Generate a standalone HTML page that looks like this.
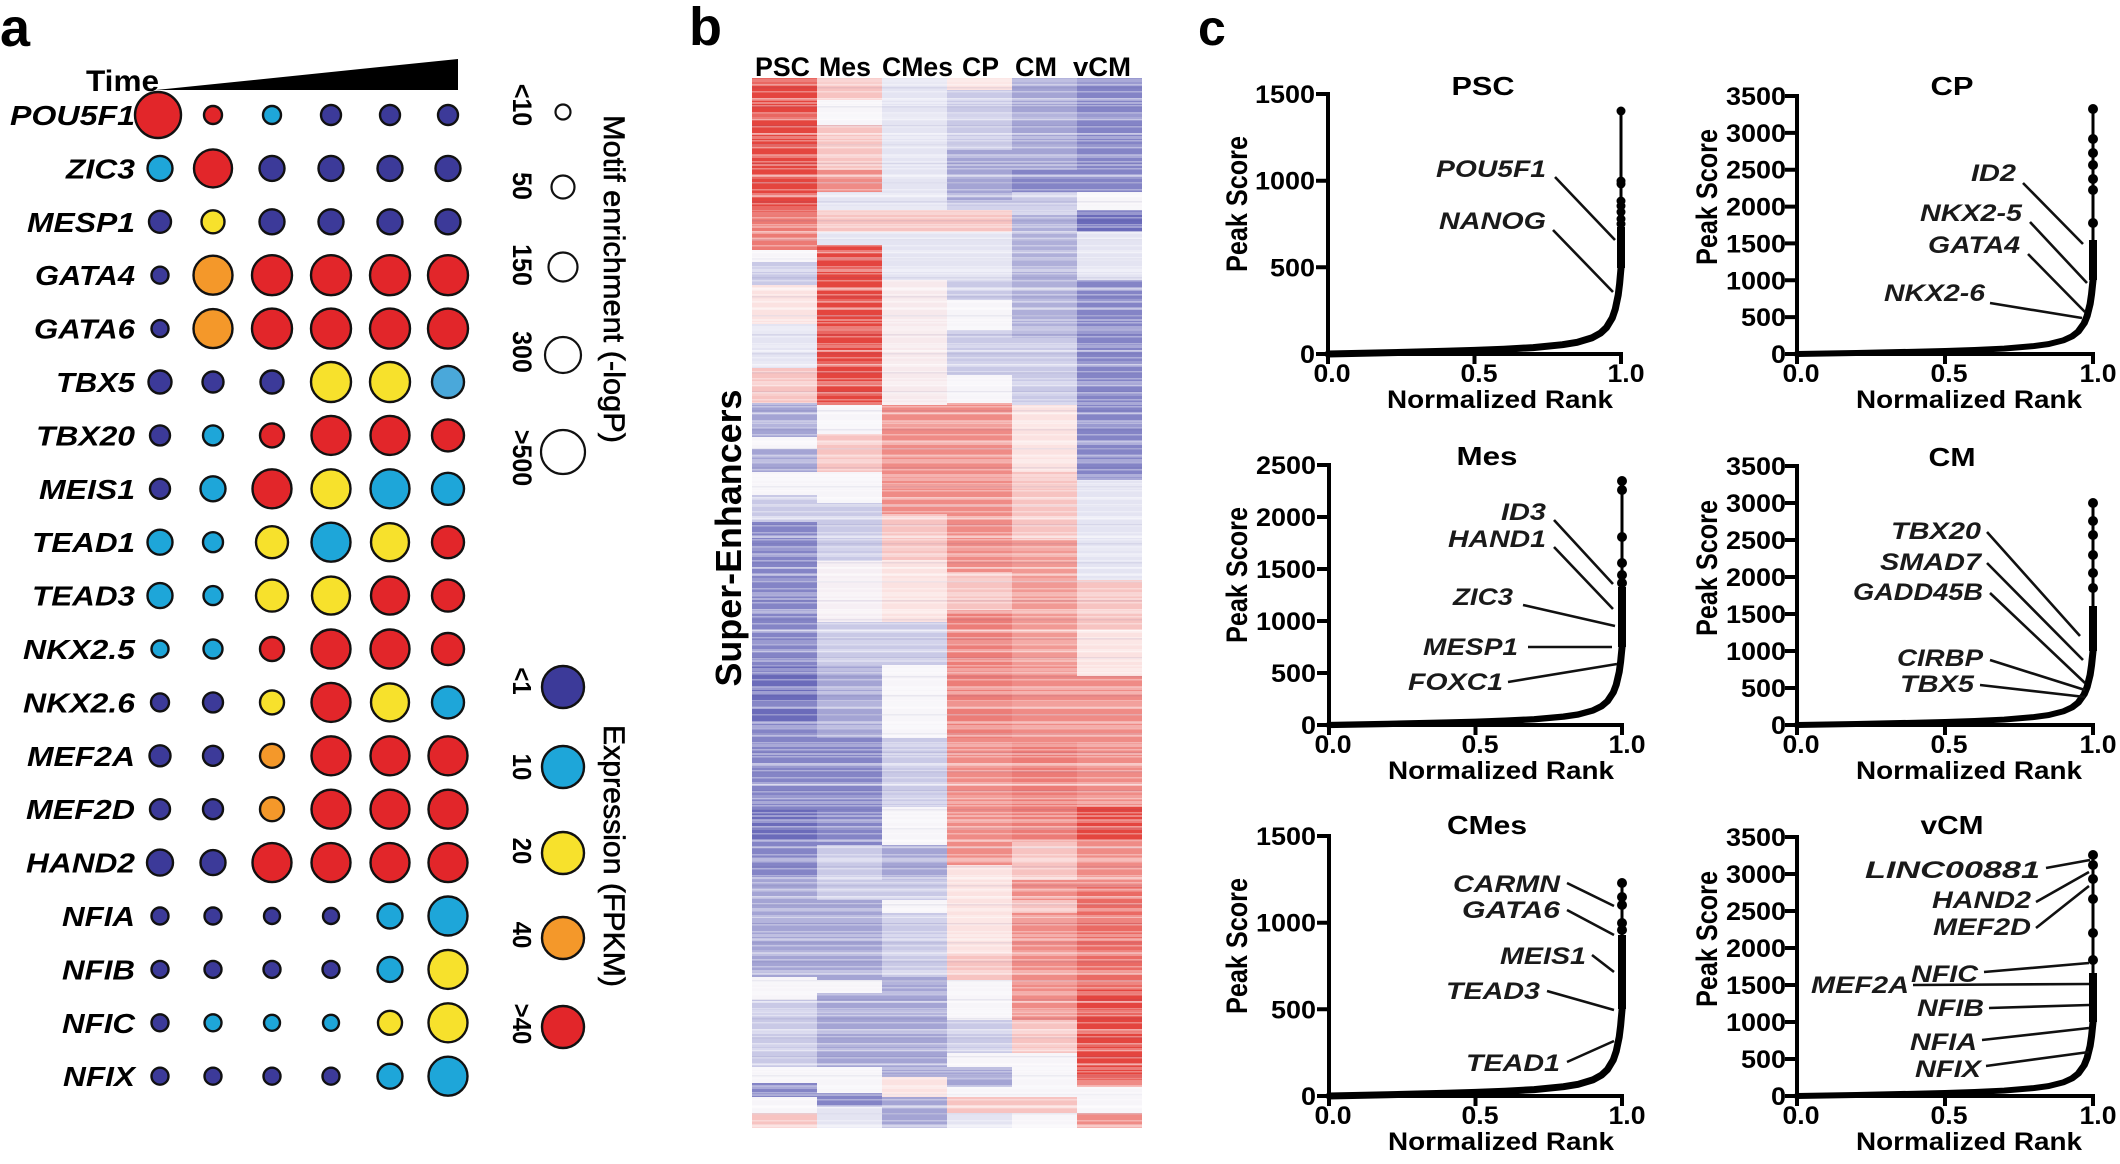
<!DOCTYPE html>
<html><head><meta charset="utf-8"><style>html,body{margin:0;padding:0;background:#fff}svg{display:block}</style></head>
<body>
<svg xmlns="http://www.w3.org/2000/svg" width="2120" height="1164" viewBox="0 0 2120 1164" font-family="'Liberation Sans', Arial, sans-serif">
<defs>
<path id="cv" d="M0,0 L58.8,-1.2 L117.6,-2.7 L147,-3.6 L176.4,-4.8 L205.8,-6.4 L235.2,-9.3 L249.9,-11.7 L264.6,-16.1 L273.4,-20.9 L279.3,-26.4 L285.2,-36.2 L288.1,-44.7 L291.1,-59 L292.5,-70.3 L294,-87.3" fill="none" stroke="#000" stroke-width="7" stroke-linejoin="round" stroke-linecap="round"/>
<pattern id="st1" width="390" height="7" patternUnits="userSpaceOnUse"><rect x="0" y="0" width="390" height="1.5" fill="#fff" fill-opacity="0.35"/></pattern>
<pattern id="st2" width="390" height="19" patternUnits="userSpaceOnUse"><rect x="0" y="3" width="390" height="3" fill="#fff" fill-opacity="0.3"/><rect x="0" y="11" width="390" height="1.5" fill="#303080" fill-opacity="0.08"/></pattern>
<pattern id="st3" width="390" height="31" patternUnits="userSpaceOnUse"><rect x="0" y="9" width="390" height="2" fill="#fff" fill-opacity="0.35"/><rect x="0" y="20" width="390" height="4" fill="#fff" fill-opacity="0.18"/></pattern>
</defs>
<rect width="2120" height="1164" fill="#fff"/>

<!-- panel letters -->
<text x="0" y="46" font-size="54" font-weight="bold">a</text>
<text x="689" y="45" font-size="54" font-weight="bold">b</text>
<text x="1198" y="45" font-size="50" font-weight="bold">c</text>

<!-- ===== Panel a ===== -->
<text x="86" y="91" font-size="30" font-weight="bold" textLength="73" lengthAdjust="spacingAndGlyphs">Time</text>
<polygon points="156,90 458,59 458,90" fill="#000"/>

<g font-size="28" font-weight="bold" font-style="italic" text-anchor="end">
<text x="135" y="125" textLength="125" lengthAdjust="spacingAndGlyphs">POU5F1</text>
<text x="135" y="178.4" textLength="69" lengthAdjust="spacingAndGlyphs">ZIC3</text>
<text x="135" y="231.8" textLength="108" lengthAdjust="spacingAndGlyphs">MESP1</text>
<text x="135" y="285.2" textLength="100" lengthAdjust="spacingAndGlyphs">GATA4</text>
<text x="135" y="338.6" textLength="101" lengthAdjust="spacingAndGlyphs">GATA6</text>
<text x="135" y="392" textLength="79" lengthAdjust="spacingAndGlyphs">TBX5</text>
<text x="135" y="445.4" textLength="99" lengthAdjust="spacingAndGlyphs">TBX20</text>
<text x="135" y="498.8" textLength="96" lengthAdjust="spacingAndGlyphs">MEIS1</text>
<text x="135" y="552.2" textLength="103" lengthAdjust="spacingAndGlyphs">TEAD1</text>
<text x="135" y="605.6" textLength="103" lengthAdjust="spacingAndGlyphs">TEAD3</text>
<text x="135" y="659" textLength="112" lengthAdjust="spacingAndGlyphs">NKX2.5</text>
<text x="135" y="712.4" textLength="112" lengthAdjust="spacingAndGlyphs">NKX2.6</text>
<text x="135" y="765.8" textLength="108" lengthAdjust="spacingAndGlyphs">MEF2A</text>
<text x="135" y="819.2" textLength="109" lengthAdjust="spacingAndGlyphs">MEF2D</text>
<text x="135" y="872.6" textLength="109" lengthAdjust="spacingAndGlyphs">HAND2</text>
<text x="135" y="926" textLength="73" lengthAdjust="spacingAndGlyphs">NFIA</text>
<text x="135" y="979.4" textLength="73" lengthAdjust="spacingAndGlyphs">NFIB</text>
<text x="135" y="1032.8" textLength="73" lengthAdjust="spacingAndGlyphs">NFIC</text>
<text x="135" y="1086.2" textLength="72" lengthAdjust="spacingAndGlyphs">NFIX</text>
</g>

<g stroke="#111" stroke-width="2.4">
<circle cx="158" cy="115" r="23" fill="#e2262a"/><circle cx="213" cy="115" r="9" fill="#e2262a"/><circle cx="272" cy="115" r="9" fill="#1ea6d9"/><circle cx="331" cy="115" r="10" fill="#3c3a99"/><circle cx="390" cy="115" r="10" fill="#3c3a99"/><circle cx="448" cy="115" r="10" fill="#3c3a99"/>
<circle cx="160" cy="168.4" r="12.5" fill="#1ea6d9"/><circle cx="213" cy="168.4" r="19" fill="#e2262a"/><circle cx="272" cy="168.4" r="12.5" fill="#3c3a99"/><circle cx="331" cy="168.4" r="12.5" fill="#3c3a99"/><circle cx="390" cy="168.4" r="12.5" fill="#3c3a99"/><circle cx="448" cy="168.4" r="12.5" fill="#3c3a99"/>
<circle cx="160" cy="221.8" r="11" fill="#3c3a99"/><circle cx="213" cy="221.8" r="11.5" fill="#f7e12c"/><circle cx="272" cy="221.8" r="12.5" fill="#3c3a99"/><circle cx="331" cy="221.8" r="12.5" fill="#3c3a99"/><circle cx="390" cy="221.8" r="12.5" fill="#3c3a99"/><circle cx="448" cy="221.8" r="12.5" fill="#3c3a99"/>
<circle cx="160" cy="275.2" r="8.5" fill="#3c3a99"/><circle cx="213" cy="275.2" r="19.5" fill="#f4982a"/><circle cx="272" cy="275.2" r="20" fill="#e2262a"/><circle cx="331" cy="275.2" r="20" fill="#e2262a"/><circle cx="390" cy="275.2" r="20" fill="#e2262a"/><circle cx="448" cy="275.2" r="20" fill="#e2262a"/>
<circle cx="160" cy="328.6" r="8.5" fill="#3c3a99"/><circle cx="213" cy="328.6" r="19.5" fill="#f4982a"/><circle cx="272" cy="328.6" r="20" fill="#e2262a"/><circle cx="331" cy="328.6" r="20" fill="#e2262a"/><circle cx="390" cy="328.6" r="20" fill="#e2262a"/><circle cx="448" cy="328.6" r="20" fill="#e2262a"/>
<circle cx="160" cy="382" r="11.5" fill="#3c3a99"/><circle cx="213" cy="382" r="10.5" fill="#3c3a99"/><circle cx="272" cy="382" r="11.5" fill="#3c3a99"/><circle cx="331" cy="382" r="20" fill="#f7e12c"/><circle cx="390" cy="382" r="20" fill="#f7e12c"/><circle cx="448" cy="382" r="16" fill="#4aa8da"/>
<circle cx="160" cy="435.4" r="10" fill="#3c3a99"/><circle cx="213" cy="435.4" r="10" fill="#1ea6d9"/><circle cx="272" cy="435.4" r="12" fill="#e2262a"/><circle cx="331" cy="435.4" r="19.5" fill="#e2262a"/><circle cx="390" cy="435.4" r="19.5" fill="#e2262a"/><circle cx="448" cy="435.4" r="16" fill="#e2262a"/>
<circle cx="160" cy="488.8" r="10" fill="#3c3a99"/><circle cx="213" cy="488.8" r="12.5" fill="#1ea6d9"/><circle cx="272" cy="488.8" r="19.5" fill="#e2262a"/><circle cx="331" cy="488.8" r="19.5" fill="#f7e12c"/><circle cx="390" cy="488.8" r="19.5" fill="#1ea6d9"/><circle cx="448" cy="488.8" r="16" fill="#1ea6d9"/>
<circle cx="160" cy="542.2" r="12.5" fill="#1ea6d9"/><circle cx="213" cy="542.2" r="10" fill="#1ea6d9"/><circle cx="272" cy="542.2" r="16" fill="#f7e12c"/><circle cx="331" cy="542.2" r="19.5" fill="#1ea6d9"/><circle cx="390" cy="542.2" r="19" fill="#f7e12c"/><circle cx="448" cy="542.2" r="16" fill="#e2262a"/>
<circle cx="160" cy="595.6" r="12.5" fill="#1ea6d9"/><circle cx="213" cy="595.6" r="9.5" fill="#1ea6d9"/><circle cx="272" cy="595.6" r="16" fill="#f7e12c"/><circle cx="331" cy="595.6" r="19" fill="#f7e12c"/><circle cx="390" cy="595.6" r="19" fill="#e2262a"/><circle cx="448" cy="595.6" r="16" fill="#e2262a"/>
<circle cx="160" cy="649" r="8.5" fill="#1ea6d9"/><circle cx="213" cy="649" r="9.5" fill="#1ea6d9"/><circle cx="272" cy="649" r="12" fill="#e2262a"/><circle cx="331" cy="649" r="19.5" fill="#e2262a"/><circle cx="390" cy="649" r="19.5" fill="#e2262a"/><circle cx="448" cy="649" r="16" fill="#e2262a"/>
<circle cx="160" cy="702.4" r="9" fill="#3c3a99"/><circle cx="213" cy="702.4" r="10" fill="#3c3a99"/><circle cx="272" cy="702.4" r="12" fill="#f7e12c"/><circle cx="331" cy="702.4" r="19.5" fill="#e2262a"/><circle cx="390" cy="702.4" r="19" fill="#f7e12c"/><circle cx="448" cy="702.4" r="16" fill="#1ea6d9"/>
<circle cx="160" cy="755.8" r="10.5" fill="#3c3a99"/><circle cx="213" cy="755.8" r="10" fill="#3c3a99"/><circle cx="272" cy="755.8" r="12" fill="#f4982a"/><circle cx="331" cy="755.8" r="19.5" fill="#e2262a"/><circle cx="390" cy="755.8" r="19.5" fill="#e2262a"/><circle cx="448" cy="755.8" r="19.5" fill="#e2262a"/>
<circle cx="160" cy="809.2" r="10" fill="#3c3a99"/><circle cx="213" cy="809.2" r="10" fill="#3c3a99"/><circle cx="272" cy="809.2" r="12" fill="#f4982a"/><circle cx="331" cy="809.2" r="19.5" fill="#e2262a"/><circle cx="390" cy="809.2" r="19.5" fill="#e2262a"/><circle cx="448" cy="809.2" r="19.5" fill="#e2262a"/>
<circle cx="160" cy="862.6" r="13" fill="#3c3a99"/><circle cx="213" cy="862.6" r="12.5" fill="#3c3a99"/><circle cx="272" cy="862.6" r="19.5" fill="#e2262a"/><circle cx="331" cy="862.6" r="19.5" fill="#e2262a"/><circle cx="390" cy="862.6" r="19.5" fill="#e2262a"/><circle cx="448" cy="862.6" r="19.5" fill="#e2262a"/>
<circle cx="160" cy="916" r="8.5" fill="#3c3a99"/><circle cx="213" cy="916" r="8.5" fill="#3c3a99"/><circle cx="272" cy="916" r="8" fill="#3c3a99"/><circle cx="331" cy="916" r="8" fill="#3c3a99"/><circle cx="390" cy="916" r="12.5" fill="#1ea6d9"/><circle cx="448" cy="916" r="19.5" fill="#1ea6d9"/>
<circle cx="160" cy="969.4" r="8.5" fill="#3c3a99"/><circle cx="213" cy="969.4" r="8.5" fill="#3c3a99"/><circle cx="272" cy="969.4" r="8.5" fill="#3c3a99"/><circle cx="331" cy="969.4" r="8.5" fill="#3c3a99"/><circle cx="390" cy="969.4" r="12.5" fill="#1ea6d9"/><circle cx="448" cy="969.4" r="19.5" fill="#f7e12c"/>
<circle cx="160" cy="1022.8" r="8.5" fill="#3c3a99"/><circle cx="213" cy="1022.8" r="8.5" fill="#1ea6d9"/><circle cx="272" cy="1022.8" r="8" fill="#1ea6d9"/><circle cx="331" cy="1022.8" r="8" fill="#1ea6d9"/><circle cx="390" cy="1022.8" r="12" fill="#f7e12c"/><circle cx="448" cy="1022.8" r="19.5" fill="#f7e12c"/>
<circle cx="160" cy="1076.2" r="8.5" fill="#3c3a99"/><circle cx="213" cy="1076.2" r="8.5" fill="#3c3a99"/><circle cx="272" cy="1076.2" r="8.5" fill="#3c3a99"/><circle cx="331" cy="1076.2" r="8.5" fill="#3c3a99"/><circle cx="390" cy="1076.2" r="12.5" fill="#1ea6d9"/><circle cx="448" cy="1076.2" r="19.5" fill="#1ea6d9"/>
</g>

<!-- motif legend -->
<g fill="#fff" stroke="#111" stroke-width="2.2">
<circle cx="563" cy="112" r="7.5"/>
<circle cx="563" cy="187" r="11.5"/>
<circle cx="563" cy="267" r="14.5"/>
<circle cx="563" cy="355" r="18"/>
<circle cx="563" cy="452" r="22"/>
</g>
<g font-size="25" font-weight="bold" text-anchor="middle">
<text transform="translate(513,105) scale(1.08,1) rotate(90)">&lt;10</text>
<text transform="translate(513,186) scale(1.08,1) rotate(90)">50</text>
<text transform="translate(513,265) scale(1.08,1) rotate(90)">150</text>
<text transform="translate(513,352) scale(1.08,1) rotate(90)">300</text>
<text transform="translate(513,458) scale(1.08,1) rotate(90)">&gt;500</text>
</g>
<text transform="translate(604,279) rotate(90)" font-size="30" text-anchor="middle" stroke="#000" stroke-width="0.6" textLength="328" lengthAdjust="spacingAndGlyphs">Motif enrichment (-logP)</text>

<!-- expression legend -->
<g stroke="#111" stroke-width="2.4">
<circle cx="563" cy="687" r="21" fill="#3c3a99"/>
<circle cx="563" cy="767" r="21" fill="#1ea6d9"/>
<circle cx="563" cy="853" r="21" fill="#f7e12c"/>
<circle cx="563" cy="938" r="21" fill="#f4982a"/>
<circle cx="563" cy="1027" r="21" fill="#e2262a"/>
</g>
<g font-size="24" font-weight="bold" text-anchor="middle">
<text transform="translate(513,681) scale(1.08,1) rotate(90)">&lt;1</text>
<text transform="translate(513,767) scale(1.08,1) rotate(90)">10</text>
<text transform="translate(513,851) scale(1.08,1) rotate(90)">20</text>
<text transform="translate(513,935) scale(1.08,1) rotate(90)">40</text>
<text transform="translate(513,1024) scale(1.08,1) rotate(90)">&gt;40</text>
</g>
<text transform="translate(604,856) rotate(90)" font-size="30" text-anchor="middle" stroke="#000" stroke-width="0.6" textLength="262" lengthAdjust="spacingAndGlyphs">Expression (FPKM)</text>

<!-- ===== Panel b ===== -->
<text transform="translate(741,538) rotate(-90)" font-size="36" font-weight="bold" text-anchor="middle" textLength="297" lengthAdjust="spacingAndGlyphs">Super-Enhancers</text>
<g font-size="27" font-weight="bold">
<text x="755" y="76" textLength="55" lengthAdjust="spacingAndGlyphs">PSC</text>
<text x="819" y="76" textLength="52" lengthAdjust="spacingAndGlyphs">Mes</text>
<text x="882" y="76" textLength="71" lengthAdjust="spacingAndGlyphs">CMes</text>
<text x="962" y="76" textLength="37" lengthAdjust="spacingAndGlyphs">CP</text>
<text x="1015" y="76" textLength="42" lengthAdjust="spacingAndGlyphs">CM</text>
<text x="1073" y="76" textLength="58" lengthAdjust="spacingAndGlyphs">vCM</text>
</g>

<g>
<!-- PSC column -->
<rect x="752" y="78" width="65" height="137" fill="#e4453f"/>
<rect x="752" y="215" width="65" height="35" fill="#ec7a74"/>
<rect x="752" y="250" width="65" height="12" fill="#f7f5f9"/>
<rect x="752" y="262" width="65" height="23" fill="#c9c9e6"/>
<rect x="752" y="285" width="65" height="39" fill="#fbe2e1"/>
<rect x="752" y="324" width="65" height="44" fill="#e4e4f2"/>
<rect x="752" y="368" width="65" height="35" fill="#f7c3c1"/>
<rect x="752" y="403" width="65" height="34" fill="#a4a4d4"/>
<rect x="752" y="437" width="65" height="12" fill="#f7f5f9"/>
<rect x="752" y="449" width="65" height="23" fill="#a4a4d4"/>
<rect x="752" y="472" width="65" height="23" fill="#f7f5f9"/>
<rect x="752" y="495" width="65" height="27" fill="#c9c9e6"/>
<rect x="752" y="522" width="65" height="143" fill="#8484c6"/>
<rect x="752" y="665" width="65" height="57" fill="#6b6bba"/>
<rect x="752" y="722" width="65" height="88" fill="#8484c6"/>
<rect x="752" y="810" width="65" height="32" fill="#6b6bba"/>
<rect x="752" y="842" width="65" height="38" fill="#8484c6"/>
<rect x="752" y="880" width="65" height="97" fill="#a4a4d4"/>
<rect x="752" y="977" width="65" height="23" fill="#f7f5f9"/>
<rect x="752" y="1000" width="65" height="67" fill="#c9c9e6"/>
<rect x="752" y="1067" width="65" height="16" fill="#f7f5f9"/>
<rect x="752" y="1083" width="65" height="14" fill="#8484c6"/>
<rect x="752" y="1097" width="65" height="16" fill="#f7f5f9"/>
<rect x="752" y="1113" width="65" height="15" fill="#f7c3c1"/>
<!-- Mes column -->
<rect x="817" y="78" width="65" height="22" fill="#f7c3c1"/>
<rect x="817" y="100" width="65" height="25" fill="#f7f5f9"/>
<rect x="817" y="125" width="65" height="45" fill="#f7c3c1"/>
<rect x="817" y="170" width="65" height="22" fill="#ef8b86"/>
<rect x="817" y="192" width="65" height="18" fill="#e4e4f2"/>
<rect x="817" y="210" width="65" height="22" fill="#f7c3c1"/>
<rect x="817" y="232" width="65" height="13" fill="#e4e4f2"/>
<rect x="817" y="245" width="65" height="160" fill="#e4453f"/>
<rect x="817" y="405" width="65" height="29" fill="#f7f5f9"/>
<rect x="817" y="434" width="65" height="38" fill="#f7c3c1"/>
<rect x="817" y="472" width="65" height="31" fill="#f7f5f9"/>
<rect x="817" y="503" width="65" height="58" fill="#c9c9e6"/>
<rect x="817" y="561" width="65" height="61" fill="#f6eff4"/>
<rect x="817" y="622" width="65" height="43" fill="#c9c9e6"/>
<rect x="817" y="665" width="65" height="73" fill="#a4a4d4"/>
<rect x="817" y="738" width="65" height="107" fill="#8484c6"/>
<rect x="817" y="845" width="65" height="55" fill="#c9c9e6"/>
<rect x="817" y="900" width="65" height="80" fill="#a4a4d4"/>
<rect x="817" y="980" width="65" height="13" fill="#f7f5f9"/>
<rect x="817" y="993" width="65" height="74" fill="#a4a4d4"/>
<rect x="817" y="1067" width="65" height="26" fill="#f7f5f9"/>
<rect x="817" y="1093" width="65" height="14" fill="#8484c6"/>
<rect x="817" y="1107" width="65" height="21" fill="#e4e4f2"/>
<!-- CMes column -->
<rect x="882" y="78" width="65" height="132" fill="#e4e4f2"/>
<rect x="882" y="210" width="65" height="22" fill="#f7c3c1"/>
<rect x="882" y="232" width="65" height="48" fill="#e4e4f2"/>
<rect x="882" y="280" width="65" height="125" fill="#f7e9ec"/>
<rect x="882" y="405" width="65" height="109" fill="#ef8b86"/>
<rect x="882" y="514" width="65" height="46" fill="#f7c3c1"/>
<rect x="882" y="560" width="65" height="62" fill="#fbe2e1"/>
<rect x="882" y="622" width="65" height="43" fill="#c9c9e6"/>
<rect x="882" y="665" width="65" height="73" fill="#f7f5f9"/>
<rect x="882" y="738" width="65" height="69" fill="#c9c9e6"/>
<rect x="882" y="807" width="65" height="38" fill="#f7f5f9"/>
<rect x="882" y="845" width="65" height="35" fill="#a4a4d4"/>
<rect x="882" y="880" width="65" height="20" fill="#c9c9e6"/>
<rect x="882" y="900" width="65" height="13" fill="#f7f5f9"/>
<rect x="882" y="913" width="65" height="64" fill="#c9c9e6"/>
<rect x="882" y="977" width="65" height="100" fill="#a4a4d4"/>
<rect x="882" y="1077" width="65" height="20" fill="#fbe2e1"/>
<rect x="882" y="1097" width="65" height="31" fill="#a4a4d4"/>
<!-- CP column -->
<rect x="947" y="78" width="65" height="12" fill="#fbe2e1"/>
<rect x="947" y="90" width="65" height="60" fill="#c9c9e6"/>
<rect x="947" y="150" width="65" height="50" fill="#a4a4d4"/>
<rect x="947" y="200" width="65" height="10" fill="#c9c9e6"/>
<rect x="947" y="210" width="65" height="22" fill="#f7c3c1"/>
<rect x="947" y="232" width="65" height="48" fill="#e4e4f2"/>
<rect x="947" y="280" width="65" height="20" fill="#c9c9e6"/>
<rect x="947" y="300" width="65" height="30" fill="#f7f5f9"/>
<rect x="947" y="330" width="65" height="45" fill="#c9c9e6"/>
<rect x="947" y="375" width="65" height="28" fill="#f7f5f9"/>
<rect x="947" y="403" width="65" height="169" fill="#ef8b86"/>
<rect x="947" y="572" width="65" height="38" fill="#f7c3c1"/>
<rect x="947" y="610" width="65" height="128" fill="#ec7d78"/>
<rect x="947" y="738" width="65" height="127" fill="#ef8b86"/>
<rect x="947" y="865" width="65" height="88" fill="#fbe2e1"/>
<rect x="947" y="953" width="65" height="27" fill="#f7c3c1"/>
<rect x="947" y="980" width="65" height="40" fill="#f7f5f9"/>
<rect x="947" y="1020" width="65" height="33" fill="#c9c9e6"/>
<rect x="947" y="1053" width="65" height="14" fill="#f7f5f9"/>
<rect x="947" y="1067" width="65" height="20" fill="#a4a4d4"/>
<rect x="947" y="1087" width="65" height="10" fill="#f7f5f9"/>
<rect x="947" y="1097" width="65" height="16" fill="#f7c3c1"/>
<rect x="947" y="1113" width="65" height="15" fill="#e4e4f2"/>
<!-- CM column -->
<rect x="1012" y="78" width="65" height="92" fill="#a4a4d4"/>
<rect x="1012" y="170" width="65" height="22" fill="#8484c6"/>
<rect x="1012" y="192" width="65" height="23" fill="#c9c9e6"/>
<rect x="1012" y="215" width="65" height="123" fill="#afafd9"/>
<rect x="1012" y="338" width="65" height="67" fill="#c9c9e6"/>
<rect x="1012" y="405" width="65" height="67" fill="#fbe2e1"/>
<rect x="1012" y="472" width="65" height="68" fill="#f7c3c1"/>
<rect x="1012" y="540" width="65" height="125" fill="#f19994"/>
<rect x="1012" y="665" width="65" height="77" fill="#ef8b86"/>
<rect x="1012" y="742" width="65" height="100" fill="#ec7b76"/>
<rect x="1012" y="842" width="65" height="38" fill="#f7c3c1"/>
<rect x="1012" y="880" width="65" height="20" fill="#ef8b86"/>
<rect x="1012" y="900" width="65" height="13" fill="#f7c3c1"/>
<rect x="1012" y="913" width="65" height="107" fill="#ef8b86"/>
<rect x="1012" y="1020" width="65" height="33" fill="#f7c3c1"/>
<rect x="1012" y="1053" width="65" height="44" fill="#f7f5f9"/>
<rect x="1012" y="1097" width="65" height="16" fill="#f7c3c1"/>
<rect x="1012" y="1113" width="65" height="15" fill="#f7f5f9"/>
<!-- vCM column -->
<rect x="1077" y="78" width="65" height="114" fill="#8484c6"/>
<rect x="1077" y="192" width="65" height="18" fill="#f7f5f9"/>
<rect x="1077" y="210" width="65" height="22" fill="#6b6bba"/>
<rect x="1077" y="232" width="65" height="48" fill="#e4e4f2"/>
<rect x="1077" y="280" width="65" height="200" fill="#8484c6"/>
<rect x="1077" y="480" width="65" height="100" fill="#e4e4f2"/>
<rect x="1077" y="580" width="65" height="50" fill="#f7c3c1"/>
<rect x="1077" y="630" width="65" height="46" fill="#fbe2e1"/>
<rect x="1077" y="676" width="65" height="131" fill="#ef8b86"/>
<rect x="1077" y="807" width="65" height="35" fill="#e4453f"/>
<rect x="1077" y="842" width="65" height="45" fill="#ef8b86"/>
<rect x="1077" y="887" width="65" height="103" fill="#ea6a64"/>
<rect x="1077" y="990" width="65" height="90" fill="#e4453f"/>
<rect x="1077" y="1080" width="65" height="7" fill="#ef8b86"/>
<rect x="1077" y="1087" width="65" height="26" fill="#f7f5f9"/>
<rect x="1077" y="1113" width="65" height="15" fill="#ef8b86"/>
<!-- stripe texture -->
<rect x="752" y="78" width="390" height="1050" fill="url(#st1)"/>
<rect x="752" y="78" width="390" height="1050" fill="url(#st2)"/>
<rect x="752" y="78" width="390" height="1050" fill="url(#st3)"/>
</g>

<!-- ===== Panel c ===== -->
<g fill="none" stroke="#000" stroke-width="4">
<path d="M1328,92 V364 M1316,354 H1623 M1316,94 H1328 M1316,180.7 H1328 M1316,267.3 H1328 M1474.5,354 V364 M1621,354 V364"/>
<path d="M1797,94 V364 M1785,354 H2095 M1785,96 H1797 M1785,132.9 H1797 M1785,169.7 H1797 M1785,206.6 H1797 M1785,243.4 H1797 M1785,280.3 H1797 M1785,317.1 H1797 M1945,354 V364 M2093,354 V364"/>
<path d="M1329,463 V735 M1317,725 H1624 M1317,465 H1329 M1317,517 H1329 M1317,569 H1329 M1317,621 H1329 M1317,673 H1329 M1475.5,725 V735 M1622,725 V735"/>
<path d="M1797,464 V735 M1785,725 H2095 M1785,466 H1797 M1785,503 H1797 M1785,540 H1797 M1785,577 H1797 M1785,614 H1797 M1785,651 H1797 M1785,688 H1797 M1945,725 V735 M2093,725 V735"/>
<path d="M1329,834 V1106 M1317,1096 H1624 M1317,836 H1329 M1317,922.7 H1329 M1317,1009.3 H1329 M1475.5,1096 V1106 M1622,1096 V1106"/>
<path d="M1797,835 V1106 M1785,1096 H2095 M1785,837 H1797 M1785,874 H1797 M1785,911 H1797 M1785,948 H1797 M1785,985 H1797 M1785,1022 H1797 M1785,1059 H1797 M1945,1096 V1106 M2093,1096 V1106"/>
</g>

<!-- curves -->
<use href="#cv" transform="translate(1328,354) scale(0.997,1)"/>
<use href="#cv" transform="translate(1797,354) scale(1.007,0.85)"/>
<use href="#cv" transform="translate(1329,725) scale(0.997,0.9)"/>
<use href="#cv" transform="translate(1797,725) scale(1.007,0.85)"/>
<use href="#cv" transform="translate(1329,1096) scale(0.997,1)"/>
<use href="#cv" transform="translate(1797,1096) scale(1.007,0.85)"/>
<g stroke="#000" fill="none" stroke-width="8">
<path d="M1621,268 V227 M2093,280 V240 M1622,647 V587 M2093,651 V606 M1622,1009 V935 M2093,1022 V973"/>
</g>
<g stroke="#000" fill="none" stroke-width="3">
<path d="M1621,227 V111 M2093,240 V109 M1622,587 V481 M2093,606 V503 M1622,935 V883 M2093,973 V855"/>
</g>
<g fill="#000">
<circle cx="1621" cy="111" r="4.5"/><circle cx="1621" cy="181" r="4.5"/><circle cx="1621" cy="184" r="4.5"/><circle cx="1621" cy="201" r="4.5"/><circle cx="1621" cy="206" r="4.5"/><circle cx="1621" cy="212" r="4.5"/><circle cx="1621" cy="219" r="4.5"/><circle cx="1621" cy="224" r="4.5"/>
<circle cx="2093" cy="109" r="5"/><circle cx="2093" cy="139" r="5"/><circle cx="2093" cy="153" r="5"/><circle cx="2093" cy="165" r="5"/><circle cx="2093" cy="179" r="5"/><circle cx="2093" cy="190" r="5"/><circle cx="2093" cy="223" r="5"/>
<circle cx="1622" cy="481" r="5"/><circle cx="1622" cy="490" r="5"/><circle cx="1622" cy="537" r="5"/><circle cx="1622" cy="563" r="5"/><circle cx="1622" cy="575" r="5"/><circle cx="1622" cy="583" r="5"/>
<circle cx="2093" cy="503" r="5"/><circle cx="2093" cy="521" r="5"/><circle cx="2093" cy="535" r="5"/><circle cx="2093" cy="555" r="5"/><circle cx="2093" cy="573" r="5"/><circle cx="2093" cy="588" r="5"/>
<circle cx="1622" cy="883" r="5"/><circle cx="1622" cy="897" r="5"/><circle cx="1622" cy="905" r="5"/><circle cx="1622" cy="923" r="5"/><circle cx="1622" cy="930" r="5"/>
<circle cx="2093" cy="855" r="5"/><circle cx="2093" cy="865" r="5"/><circle cx="2093" cy="879" r="5"/><circle cx="2093" cy="899" r="5"/><circle cx="2093" cy="933" r="5"/><circle cx="2093" cy="960" r="5"/>
</g>

<!-- titles -->
<g font-size="26" font-weight="bold" text-anchor="middle">
<text x="1483" y="95" textLength="63" lengthAdjust="spacingAndGlyphs">PSC</text>
<text x="1952" y="95" textLength="43" lengthAdjust="spacingAndGlyphs">CP</text>
<text x="1487" y="465" textLength="61" lengthAdjust="spacingAndGlyphs">Mes</text>
<text x="1952" y="466" textLength="47" lengthAdjust="spacingAndGlyphs">CM</text>
<text x="1487" y="834" textLength="80" lengthAdjust="spacingAndGlyphs">CMes</text>
<text x="1952" y="834" textLength="63" lengthAdjust="spacingAndGlyphs">vCM</text>
</g>

<!-- y tick labels -->
<g font-size="25" font-weight="bold" text-anchor="end">
<text x="1315" y="103" textLength="60" lengthAdjust="spacingAndGlyphs">1500</text>
<text x="1315" y="189.7" textLength="60" lengthAdjust="spacingAndGlyphs">1000</text>
<text x="1315" y="276.3" textLength="45" lengthAdjust="spacingAndGlyphs">500</text>
<text x="1315" y="363" textLength="15" lengthAdjust="spacingAndGlyphs">0</text>

<text x="1786" y="105" textLength="60" lengthAdjust="spacingAndGlyphs">3500</text>
<text x="1786" y="141.9" textLength="60" lengthAdjust="spacingAndGlyphs">3000</text>
<text x="1786" y="178.7" textLength="60" lengthAdjust="spacingAndGlyphs">2500</text>
<text x="1786" y="215.6" textLength="60" lengthAdjust="spacingAndGlyphs">2000</text>
<text x="1786" y="252.4" textLength="60" lengthAdjust="spacingAndGlyphs">1500</text>
<text x="1786" y="289.3" textLength="60" lengthAdjust="spacingAndGlyphs">1000</text>
<text x="1786" y="326.1" textLength="45" lengthAdjust="spacingAndGlyphs">500</text>
<text x="1786" y="363" textLength="15" lengthAdjust="spacingAndGlyphs">0</text>

<text x="1316" y="474" textLength="60" lengthAdjust="spacingAndGlyphs">2500</text>
<text x="1316" y="526" textLength="60" lengthAdjust="spacingAndGlyphs">2000</text>
<text x="1316" y="578" textLength="60" lengthAdjust="spacingAndGlyphs">1500</text>
<text x="1316" y="630" textLength="60" lengthAdjust="spacingAndGlyphs">1000</text>
<text x="1316" y="682" textLength="45" lengthAdjust="spacingAndGlyphs">500</text>
<text x="1316" y="734" textLength="15" lengthAdjust="spacingAndGlyphs">0</text>

<text x="1786" y="475" textLength="60" lengthAdjust="spacingAndGlyphs">3500</text>
<text x="1786" y="512" textLength="60" lengthAdjust="spacingAndGlyphs">3000</text>
<text x="1786" y="549" textLength="60" lengthAdjust="spacingAndGlyphs">2500</text>
<text x="1786" y="586" textLength="60" lengthAdjust="spacingAndGlyphs">2000</text>
<text x="1786" y="623" textLength="60" lengthAdjust="spacingAndGlyphs">1500</text>
<text x="1786" y="660" textLength="60" lengthAdjust="spacingAndGlyphs">1000</text>
<text x="1786" y="697" textLength="45" lengthAdjust="spacingAndGlyphs">500</text>
<text x="1786" y="734" textLength="15" lengthAdjust="spacingAndGlyphs">0</text>

<text x="1316" y="845" textLength="60" lengthAdjust="spacingAndGlyphs">1500</text>
<text x="1316" y="931.7" textLength="60" lengthAdjust="spacingAndGlyphs">1000</text>
<text x="1316" y="1018.3" textLength="45" lengthAdjust="spacingAndGlyphs">500</text>
<text x="1316" y="1105" textLength="15" lengthAdjust="spacingAndGlyphs">0</text>

<text x="1786" y="846" textLength="60" lengthAdjust="spacingAndGlyphs">3500</text>
<text x="1786" y="883" textLength="60" lengthAdjust="spacingAndGlyphs">3000</text>
<text x="1786" y="920" textLength="60" lengthAdjust="spacingAndGlyphs">2500</text>
<text x="1786" y="957" textLength="60" lengthAdjust="spacingAndGlyphs">2000</text>
<text x="1786" y="994" textLength="60" lengthAdjust="spacingAndGlyphs">1500</text>
<text x="1786" y="1031" textLength="60" lengthAdjust="spacingAndGlyphs">1000</text>
<text x="1786" y="1068" textLength="45" lengthAdjust="spacingAndGlyphs">500</text>
<text x="1786" y="1105" textLength="15" lengthAdjust="spacingAndGlyphs">0</text>
</g>

<!-- x tick labels -->
<g font-size="25" font-weight="bold" text-anchor="middle">
<text x="1332" y="382" textLength="37" lengthAdjust="spacingAndGlyphs">0.0</text>
<text x="1479" y="382" textLength="37" lengthAdjust="spacingAndGlyphs">0.5</text>
<text x="1626" y="382" textLength="37" lengthAdjust="spacingAndGlyphs">1.0</text>
<text x="1801" y="382" textLength="37" lengthAdjust="spacingAndGlyphs">0.0</text>
<text x="1949" y="382" textLength="37" lengthAdjust="spacingAndGlyphs">0.5</text>
<text x="2098" y="382" textLength="37" lengthAdjust="spacingAndGlyphs">1.0</text>
<text x="1333" y="753" textLength="37" lengthAdjust="spacingAndGlyphs">0.0</text>
<text x="1480" y="753" textLength="37" lengthAdjust="spacingAndGlyphs">0.5</text>
<text x="1627" y="753" textLength="37" lengthAdjust="spacingAndGlyphs">1.0</text>
<text x="1801" y="753" textLength="37" lengthAdjust="spacingAndGlyphs">0.0</text>
<text x="1949" y="753" textLength="37" lengthAdjust="spacingAndGlyphs">0.5</text>
<text x="2098" y="753" textLength="37" lengthAdjust="spacingAndGlyphs">1.0</text>
<text x="1333" y="1124" textLength="37" lengthAdjust="spacingAndGlyphs">0.0</text>
<text x="1480" y="1124" textLength="37" lengthAdjust="spacingAndGlyphs">0.5</text>
<text x="1627" y="1124" textLength="37" lengthAdjust="spacingAndGlyphs">1.0</text>
<text x="1801" y="1124" textLength="37" lengthAdjust="spacingAndGlyphs">0.0</text>
<text x="1949" y="1124" textLength="37" lengthAdjust="spacingAndGlyphs">0.5</text>
<text x="2098" y="1124" textLength="37" lengthAdjust="spacingAndGlyphs">1.0</text>

<text x="1500" y="408" textLength="226" lengthAdjust="spacingAndGlyphs">Normalized Rank</text>
<text x="1969" y="408" textLength="226" lengthAdjust="spacingAndGlyphs">Normalized Rank</text>
<text x="1501" y="779" textLength="226" lengthAdjust="spacingAndGlyphs">Normalized Rank</text>
<text x="1969" y="779" textLength="226" lengthAdjust="spacingAndGlyphs">Normalized Rank</text>
<text x="1501" y="1150" textLength="226" lengthAdjust="spacingAndGlyphs">Normalized Rank</text>
<text x="1969" y="1150" textLength="226" lengthAdjust="spacingAndGlyphs">Normalized Rank</text>
</g>

<!-- Peak Score labels -->
<g font-size="25" font-weight="bold" text-anchor="middle">
<text transform="translate(1247,204) scale(1.2,1) rotate(-90)" textLength="136" lengthAdjust="spacingAndGlyphs">Peak Score</text>
<text transform="translate(1717,197) scale(1.2,1) rotate(-90)" textLength="136" lengthAdjust="spacingAndGlyphs">Peak Score</text>
<text transform="translate(1247,575) scale(1.2,1) rotate(-90)" textLength="136" lengthAdjust="spacingAndGlyphs">Peak Score</text>
<text transform="translate(1717,568) scale(1.2,1) rotate(-90)" textLength="136" lengthAdjust="spacingAndGlyphs">Peak Score</text>
<text transform="translate(1247,946) scale(1.2,1) rotate(-90)" textLength="136" lengthAdjust="spacingAndGlyphs">Peak Score</text>
<text transform="translate(1717,939) scale(1.2,1) rotate(-90)" textLength="136" lengthAdjust="spacingAndGlyphs">Peak Score</text>
</g>

<!-- gene annotations -->
<g font-size="24" font-weight="bold" font-style="italic" text-anchor="end" fill="#1a1a1a">
<text x="1546" y="177" textLength="110" lengthAdjust="spacingAndGlyphs">POU5F1</text>
<text x="1546" y="229" textLength="107" lengthAdjust="spacingAndGlyphs">NANOG</text>

<text x="2016" y="181" textLength="45" lengthAdjust="spacingAndGlyphs">ID2</text>
<text x="2022" y="221" textLength="102" lengthAdjust="spacingAndGlyphs">NKX2-5</text>
<text x="2020" y="253" textLength="92" lengthAdjust="spacingAndGlyphs">GATA4</text>
<text x="1985" y="301" textLength="101" lengthAdjust="spacingAndGlyphs">NKX2-6</text>

<text x="1546" y="520" textLength="45" lengthAdjust="spacingAndGlyphs">ID3</text>
<text x="1546" y="547" textLength="98" lengthAdjust="spacingAndGlyphs">HAND1</text>
<text x="1513" y="605" textLength="60" lengthAdjust="spacingAndGlyphs">ZIC3</text>
<text x="1518" y="655" textLength="95" lengthAdjust="spacingAndGlyphs">MESP1</text>
<text x="1503" y="690" textLength="95" lengthAdjust="spacingAndGlyphs">FOXC1</text>

<text x="1981" y="539" textLength="90" lengthAdjust="spacingAndGlyphs">TBX20</text>
<text x="1981" y="570" textLength="101" lengthAdjust="spacingAndGlyphs">SMAD7</text>
<text x="1983" y="600" textLength="130" lengthAdjust="spacingAndGlyphs">GADD45B</text>
<text x="1983" y="666" textLength="86" lengthAdjust="spacingAndGlyphs">CIRBP</text>
<text x="1974" y="692" textLength="74" lengthAdjust="spacingAndGlyphs">TBX5</text>

<text x="1560" y="892" textLength="107" lengthAdjust="spacingAndGlyphs">CARMN</text>
<text x="1560" y="918" textLength="98" lengthAdjust="spacingAndGlyphs">GATA6</text>
<text x="1586" y="964" textLength="86" lengthAdjust="spacingAndGlyphs">MEIS1</text>
<text x="1540" y="999" textLength="94" lengthAdjust="spacingAndGlyphs">TEAD3</text>
<text x="1560" y="1071" textLength="94" lengthAdjust="spacingAndGlyphs">TEAD1</text>

<text x="2040" y="878" textLength="175" lengthAdjust="spacingAndGlyphs">LINC00881</text>
<text x="2031" y="908" textLength="99" lengthAdjust="spacingAndGlyphs">HAND2</text>
<text x="2031" y="935" textLength="98" lengthAdjust="spacingAndGlyphs">MEF2D</text>
<text x="1978" y="982" textLength="67" lengthAdjust="spacingAndGlyphs">NFIC</text>
<text x="1909" y="993" textLength="98" lengthAdjust="spacingAndGlyphs">MEF2A</text>
<text x="1984" y="1016" textLength="67" lengthAdjust="spacingAndGlyphs">NFIB</text>
<text x="1977" y="1050" textLength="67" lengthAdjust="spacingAndGlyphs">NFIA</text>
<text x="1981" y="1077" textLength="66" lengthAdjust="spacingAndGlyphs">NFIX</text>
</g>

<g stroke="#111" stroke-width="2.6" fill="none">
<path d="M1555,177 L1615,240 M1553,230 L1613,292"/>
<path d="M2023,183 L2083,244 M2030,222 L2087,283 M2028,254 L2085,312 M1990,303 L2082,318"/>
<path d="M1554,520 L1613,584 M1554,547 L1613,609 M1523,605 L1615,626 M1528,647 L1612,647 M1508,682 L1617,664"/>
<path d="M1987,532 L2080,636 M1987,563 L2083,660 M1990,593 L2085,683 M1990,660 L2085,690 M1980,685 L2085,697"/>
<path d="M1567,883 L1614,906 M1567,910 L1614,935 M1592,955 L1614,972 M1547,991 L1614,1010 M1567,1062 L1614,1041"/>
<path d="M2046,868 L2090,860 M2036,902 L2089,872 M2036,928 L2089,886 M1984,972 L2089,963 M1913,985 L2089,984 M1989,1008 L2089,1005 M1982,1040 L2089,1028 M1986,1066 L2089,1052"/>
</g>
</svg>
</body></html>
